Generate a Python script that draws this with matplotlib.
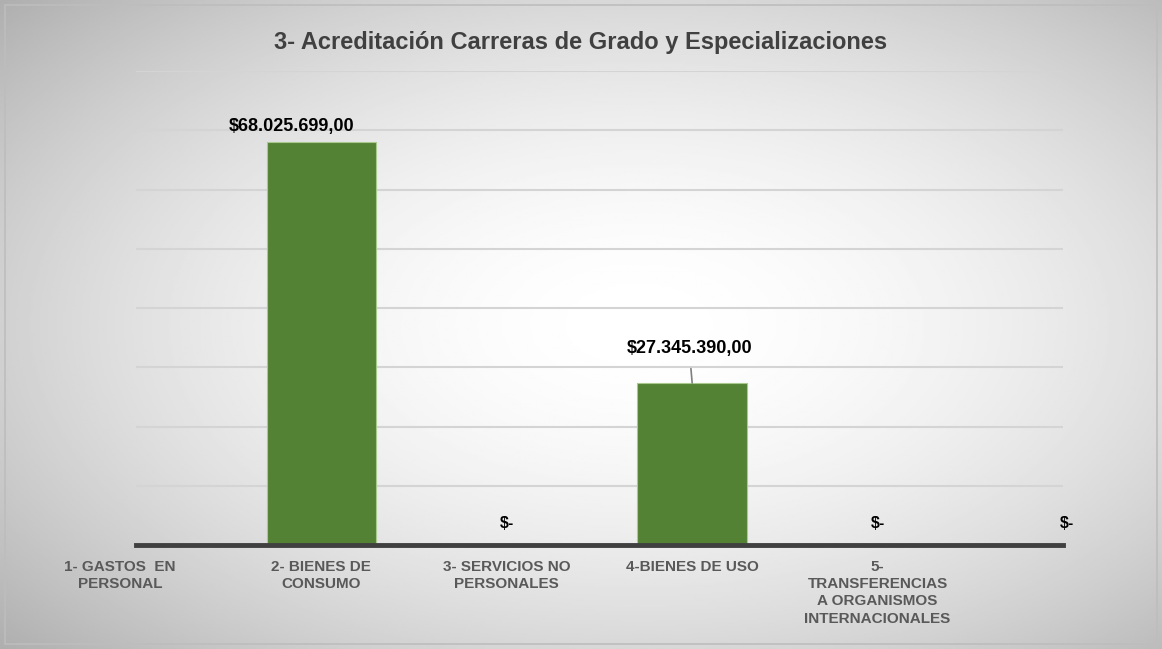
import numpy as np
import matplotlib
matplotlib.use('Agg')
import matplotlib.pyplot as plt
from matplotlib.patches import Rectangle
from matplotlib.transforms import ScaledTranslation

title = '3- Acreditación Carreras de Grado y Especializaciones'
categories = ['1- GASTOS  EN\nPERSONAL', '2- BIENES DE\nCONSUMO', '3- SERVICIOS NO\nPERSONALES',
              '4-BIENES DE USO', '5-\nTRANSFERENCIAS\nA ORGANISMOS\nINTERNACIONALES', '']
values = [0, 68025699.00, 0, 27345390.00, 0, 0]
value_labels = ['', '$68.025.699,00', '$-', '$27.345.390,00', '$-', '$-']

plt.rcParams['font.family'] = ['Liberation Sans', 'DejaVu Sans']

fig = plt.figure(figsize=(11.62, 6.49), dpi=100)

# radial gradient background
bg = fig.add_axes([0, 0, 1, 1], zorder=-10)
yy, xx = np.mgrid[0:1:300j, 0:1:540j]
r = np.sqrt(((xx - 0.55) / 0.75) ** 2 + ((yy - 0.5) / 0.75) ** 2)
shade = 1.0 - 0.32 * np.clip(r, 0, 1) ** 1.8
bg.imshow(shade, cmap='gray', vmin=0, vmax=1, extent=[0, 1, 0, 1], aspect='auto')
bg.add_patch(Rectangle((0.004, 0.008), 0.992, 0.984, fill=False, edgecolor='#bdbdbd', lw=1.2))
bg.set_axis_off()

ax = fig.add_axes([0.117, 0.1602, 0.7978, 0.7304])
ax.patch.set_alpha(0)
x = np.arange(len(values))
ax.bar(x, values, width=0.59, color='#548235', edgecolor='#a9c98f', linewidth=0.8, zorder=3)

ax.set_xlim(0, 5)
ax.set_ylim(0, 80e6)
ax.set_yticks(np.arange(0, 80e6 + 1, 10e6))
ax.yaxis.grid(True, color='#d4d4d4', lw=1.5, zorder=0)
ax.tick_params(axis='y', left=False, labelleft=False)
ax.tick_params(axis='x', bottom=False, pad=7)
for s in ['top', 'right', 'left']:
    ax.spines[s].set_visible(False)
ax.spines['bottom'].set_color('#404040')
ax.spines['bottom'].set_linewidth(3.5)
ax.spines['bottom'].set_zorder(4)

ax.set_xticks(x)
ax.set_xticklabels(categories, fontsize=11, fontweight='bold', color='#595959', linespacing=1.3, va='top')
first = ax.get_xticklabels()[0]
first.set_transform(first.get_transform() + ScaledTranslation(-0.16, 0, fig.dpi_scale_trans))

# data labels
ax.annotate(value_labels[1], (1, values[1]), xytext=(-30, 15), textcoords='offset pixels',
            ha='center', va='center', fontsize=13, fontweight='bold', color='black')
ax.annotate(value_labels[3], (3, values[3]), xytext=(-3, 34), textcoords='offset pixels',
            ha='center', va='center', fontsize=13, fontweight='bold', color='black',
            arrowprops=dict(arrowstyle='-', color='#7f7f7f', lw=1.2, shrinkA=6, shrinkB=0))
for i in [2, 4, 5]:
    ax.annotate(value_labels[i], (x[i], 0), xytext=(4 if i == 5 else 0, 22), textcoords='offset pixels',
                ha='center', va='center', fontsize=11.5, fontweight='bold', color='black',
                annotation_clip=False)

fig.text(0.5, 0.935, title, ha='center', va='center', fontsize=17, fontweight='bold', color='#404040')

fig.savefig('out.png', dpi=100)
